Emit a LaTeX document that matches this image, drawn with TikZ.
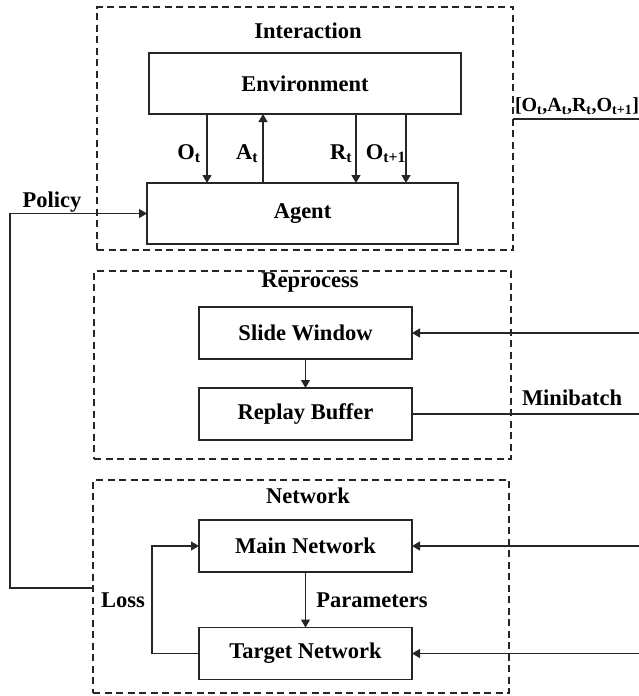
\documentclass[tikz,border=0pt]{standalone}
\usepackage{fontspec}
\setmainfont{Liberation Serif}
\usetikzlibrary{arrows.meta,calc}
\begin{document}
\begin{tikzpicture}[x=1pt,y=-1pt,
  every node/.style={font=\fontsize{22.5}{25}\selectfont\bfseries, inner sep=0pt, outer sep=0pt},
  blk/.style={draw=black!85, line width=1.3pt, rectangle, align=center},
  grp/.style={draw=black!85, line width=1.2pt, dash pattern=on 7pt off 4.5pt, rectangle},
  arr/.style={draw=black!85, line width=1.3pt, -{Triangle[length=8pt,width=9pt]}},
  ln/.style={draw=black!85, line width=1.3pt}
]
\useasboundingbox (0,0) rectangle (639,696);
% group boxes
\node[grp, minimum width=416pt, minimum height=243pt] (inter) at (305,128.5) {};
\node[grp, minimum width=417pt, minimum height=188pt] (repro) at (302.5,365) {};
\node[grp, minimum width=416pt, minimum height=213pt] (net) at (301,586.5) {};
\node (tinter) at (308,31) {Interaction};
\node (trepro) at (310,283) {Reprocess};
\node (tnet) at (308,496) {Network};
% blocks
\node[blk, minimum width=312pt, minimum height=61pt] (env) at (305,83.5) {Environment};
\node[blk, minimum width=311pt, minimum height=61pt] (agent) at (302.5,213.5) {Agent};
\node[blk, minimum width=213pt, minimum height=52pt] (sw) at (305.5,333) {Slide Window};
\node[blk, minimum width=213pt, minimum height=52pt] (rb) at (305.5,414) {Replay Buffer};
\node[blk, minimum width=213pt, minimum height=52pt] (mn) at (305.5,546) {Main Network};
\node[blk, minimum width=213pt, minimum height=52pt] (tn) at (305.5,653.5) {Target Network};
% env <-> agent
\draw[arr] ([xshift=58pt]env.south west) -- ([xshift=58pt]env.south west |- agent.north);
\draw[arr] ([xshift=114pt]env.south west |- agent.north) -- ([xshift=114pt]env.south west);
\draw[arr] ([xshift=207pt]env.south west) -- ([xshift=207pt]env.south west |- agent.north);
\draw[arr] ([xshift=257pt]env.south west) -- ([xshift=257pt]env.south west |- agent.north);
\node (lot) at (189,154) {O\textsubscript{t}};
\node (lat) at (247,154) {A\textsubscript{t}};
\node (lrt) at (341,154) {R\textsubscript{t}};
\node (lot1) at (386,154) {O\textsubscript{t+1}};
% right side
\coordinate (r1) at (639,119);
\coordinate (r2) at (639,333);
\coordinate (r3) at (639,414);
\coordinate (r4) at (639,546);
\coordinate (r5) at (639,653.5);
\draw[ln] (r1 -| inter.east) -- (r1);
\node[font=\fontsize{20}{22}\selectfont\bfseries] (ltuple) at (577,106) {[O\textsubscript{t},A\textsubscript{t},R\textsubscript{t},O\textsubscript{t+1}]};
\draw[arr] (r2) -- (sw.east);
\draw[arr] (sw.south) -- (rb.north);
\draw[ln] (rb.east) -- (r3);
\node (lmini) at (572,398) {Minibatch};
\draw[arr] (r4) -- (mn.east);
\draw[arr] (r5) -- (tn.east);
% network internals
\draw[arr] (mn.south) -- (tn.north);
\node (lparam) at (372,600) {Parameters};
\draw[arr] (tn.west) -- ++(-47,0) |- (mn.west);
\node (lloss) at (123,600) {Loss};
% policy
\coordinate (pl) at (10,588);
\draw[arr] (pl -| net.west) -- (pl) |- (agent.west);
\node (lpolicy) at (52,202) {Policy};
\end{tikzpicture}
\end{document}
